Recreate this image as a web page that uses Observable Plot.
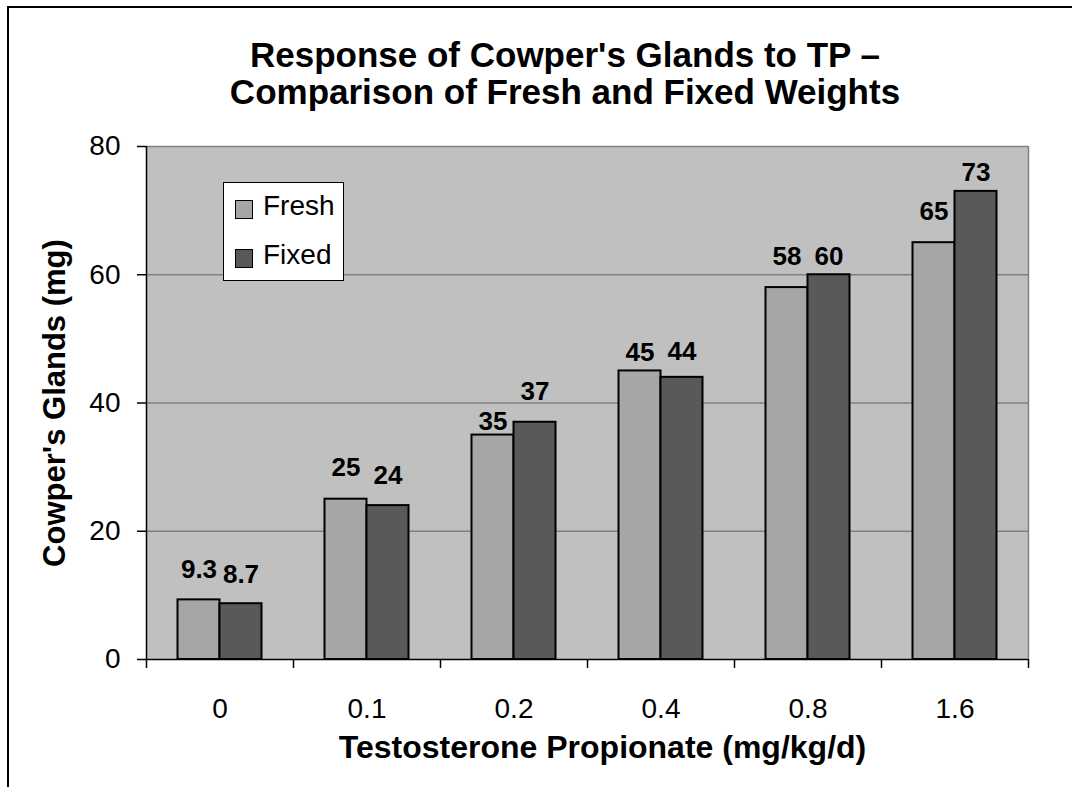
<!DOCTYPE html>
<html>
<head>
<meta charset="utf-8">
<script src="https://cdn.jsdelivr.net/npm/d3@7"></script>
<script src="https://cdn.jsdelivr.net/npm/@observablehq/plot@0.6"></script>
<style>
  html, body { margin: 0; padding: 0; background: #fff; }
  body { font-family: "Liberation Sans", Arial, sans-serif; }
  #page { position: relative; width: 1072px; height: 787px; overflow: hidden; }
  #border { position: absolute; left: 7px; top: 6px; width: 1080px; height: 800px;
            border-left: 2px solid #000; border-top: 2px solid #000; box-sizing: border-box; }
  #title { position: absolute; left: 165px; width: 800px; top: 36px; text-align: center;
           font-weight: bold; font-size: 35px; line-height: 37px; color: #000; }
  #chart { position: absolute; left: 0; top: 120px; }
  #legend { position: absolute; left: 223px; top: 182px; width: 121px; height: 99px;
            background: #fff; border: 1.5px solid #000; box-sizing: border-box; }
  .sw { position: absolute; left: 11px; width: 18px; height: 19px; border: 1.5px solid #000; box-sizing: border-box; }
  .lt { position: absolute; left: 39px; font-size: 28px; line-height: 28px; color: #000; }
</style>
</head>
<body>
<div id="page">
  <div id="border"></div>
  <div id="title">Response of Cowper's Glands to TP –<br>Comparison of Fresh and Fixed Weights</div>
  <div id="chart"></div>
  <div id="legend"></div>
</div>
<script>
// ---- data ----
const categories = ["0", "0.1", "0.2", "0.4", "0.8", "1.6"];
const fresh = [9.3, 25, 35, 45, 58, 65];
const fixed = [8.7, 24, 37, 44, 60, 73];
const freshLabels = ["9.3", "25", "35", "45", "58", "65"];
const fixedLabels = ["8.7", "24", "37", "44", "60", "73"];
const yTicks = [0, 20, 40, 60, 80];
const gridTicks = [20, 40, 60];
const seriesNames = ["Fresh", "Fixed"];

// ---- styles ----
const freshColor = "#A6A6A6";
const fixedColor = "#595959";
const bgColor = "#C0C0C0";
// label lift above bar top, in px (labels were placed by hand in the original)
const freshLift = [22, 23, 5, 10, 23, 23];
const fixedLift = [21, 22, 22, 17, 10, 10];

const width = 1072, height = 667;
const marginLeft = 146, marginRight = 44, marginTop = 26, marginBottom = 128;
const plotH = height - marginTop - marginBottom;
const bw = (width - marginLeft - marginRight) / categories.length;
const barW = 42;
const outer = (bw - 2 * barW) / 2;
const labelFont = 26;

const rows = categories.map((c, i) => ({
  category: c, fresh: fresh[i], fixed: fixed[i],
  freshLabel: freshLabels[i], fixedLabel: fixedLabels[i]
}));

const freshText = rows.map((d, i) => Plot.text([d], {
  x: "category", y: "fresh", text: "freshLabel", dx: -barW / 2,
  dy: -freshLift[i] - 0.32 * labelFont, fontSize: labelFont, fontWeight: "bold", lineAnchor: "middle"
}));
const fixedText = rows.map((d, i) => Plot.text([d], {
  x: "category", y: "fixed", text: "fixedLabel", dx: barW / 2,
  dy: -fixedLift[i] - 0.32 * labelFont, fontSize: labelFont, fontWeight: "bold", lineAnchor: "middle"
}));

const chart = Plot.plot({
  width, height, marginLeft, marginRight, marginTop, marginBottom,
  style: { fontFamily: "'Liberation Sans', Arial, sans-serif", color: "#000", background: "transparent", overflow: "visible" },
  x: { type: "band", domain: categories, padding: 0, axis: null },
  y: { domain: [0, 80], axis: null },
  marks: [
    Plot.frame({ fill: bgColor, stroke: null }),
    Plot.ruleY(gridTicks, { stroke: "#808080", strokeWidth: 1.5 }),
    Plot.ruleY([80], { stroke: "#808080", strokeWidth: 1.5 }),
    Plot.ruleX([categories[categories.length - 1]], { dx: bw / 2, stroke: "#808080", strokeWidth: 1.5 }),
    Plot.barY(rows, { x: "category", y: "fresh", fill: freshColor, stroke: "#000", strokeWidth: 2,
      insetLeft: outer, insetRight: outer + barW }),
    Plot.barY(rows, { x: "category", y: "fixed", fill: fixedColor, stroke: "#000", strokeWidth: 2,
      insetLeft: outer + barW, insetRight: outer }),
    Plot.ruleY([0], { stroke: "#000", strokeWidth: 1.5 }),
    Plot.ruleX([categories[0]], { dx: -bw / 2, stroke: "#000", strokeWidth: 1.5 }),
    Plot.ruleX(categories, { dx: -bw / 2, stroke: "#000", strokeWidth: 1.5, insetTop: plotH, insetBottom: -9 }),
    Plot.ruleX([categories[categories.length - 1]], { dx: bw / 2, stroke: "#000", strokeWidth: 1.5, insetTop: plotH, insetBottom: -9 }),
    Plot.axisY({ ticks: yTicks, tickSize: 9, tickPadding: 17, fontSize: 28, label: null, strokeWidth: 1.5 }),
    Plot.axisX({ tickSize: 0, tickPadding: 39, fontSize: 28, label: null }),
    ...freshText,
    ...fixedText,
    Plot.text(["Cowper's Glands (mg)"], { frameAnchor: "left", rotate: -90, dx: -91, fontSize: 31,
      fontWeight: "bold", lineAnchor: "middle", textAnchor: "middle" }),
    Plot.text(["Testosterone Propionate (mg/kg/d)"], { frameAnchor: "bottom", dx: 15, dy: 88, fontSize: 32,
      fontWeight: "bold", lineAnchor: "middle", textAnchor: "middle" })
  ]
});
document.getElementById("chart").appendChild(chart);

// legend (HTML overlay inside the plot area)
const legend = document.getElementById("legend");
[[freshColor, 17, 9], [fixedColor, 66, 58]].forEach(([c, top, ttop], i) => {
  const sw = document.createElement("div");
  sw.className = "sw"; sw.style.top = top + "px"; sw.style.background = c;
  legend.appendChild(sw);
  const t = document.createElement("div");
  t.className = "lt"; t.style.top = ttop + "px"; t.textContent = seriesNames[i];
  legend.appendChild(t);
});
</script>
</body>
</html>
